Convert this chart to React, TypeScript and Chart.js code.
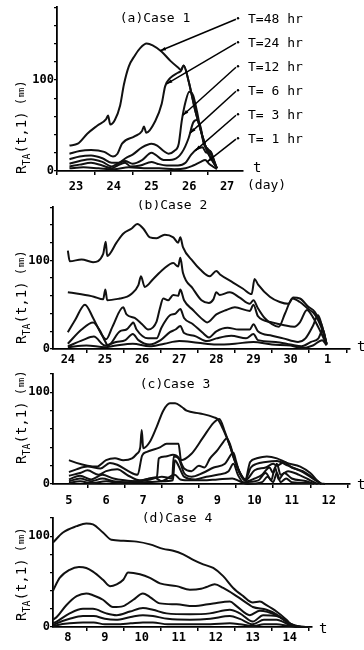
import React, { useEffect, useRef } from "react";
import { Chart, registerables } from "chart.js";
Chart.register(...registerables);

type Pt = [number, number];

const seriesNames = ["T=48 hr", "T=24 hr", "T=12 hr", "T= 6 hr", "T= 3 hr", "T= 1 hr"];
const yLabelValues = [0, 100];

// ---------- (a) Case 1 ----------
const aTickDays = [23, 24, 25, 26, 27];
const aTickLabels = ["23", "24", "25", "26", "27"];
const aT48: Pt[] = [[22.83,28],[23.05,30],[23.3,41],[23.57,50],[23.8,57],[23.85,61],[23.91,51],[24.03,56],[24.17,72],[24.27,95],[24.4,115],[24.56,127],[24.7,135],[24.87,140],[25.03,138],[25.27,131],[25.5,121],[25.72,113],[25.78,111],[25.85,116],[25.98,99],[26.16,66],[26.33,41],[26.47,22],[26.6,12],[26.73,3]];
const aT24: Pt[] = [[22.83,19],[23.1,22],[23.4,23],[23.75,21],[23.98,16],[24.1,19],[24.22,30],[24.55,38],[24.75,44],[24.8,49],[24.86,42],[25.1,55],[25.27,74],[25.36,93],[25.49,102],[25.7,108],[25.78,110],[25.85,116],[25.98,99],[26.16,66],[26.33,41],[26.47,22],[26.6,12],[26.73,3]];
const aT12: Pt[] = [[22.83,13],[23.1,16],[23.4,17],[23.7,14],[23.95,9],[24.1,9],[24.35,15],[24.5,18],[24.75,26],[25.0,30],[25.15,28],[25.32,22],[25.45,19],[25.6,22],[25.72,30],[25.8,55],[25.9,76],[26.0,87],[26.1,83],[26.2,66],[26.3,45],[26.4,30],[26.5,22],[26.6,16],[26.7,5]];
const aT6: Pt[] = [[22.83,8],[23.1,11],[23.4,13],[23.7,10],[23.95,5],[24.1,8],[24.3,11],[24.5,8],[24.75,12],[25.0,20],[25.1,18],[25.32,12],[25.6,13],[25.8,20],[25.98,36],[26.1,53],[26.2,56],[26.3,48],[26.38,30],[26.47,25],[26.58,20],[26.68,8],[26.73,3]];
const aT3: Pt[] = [[22.83,5],[23.1,7],[23.4,9],[23.7,6],[23.95,3],[24.1,6],[24.3,9],[24.45,5],[24.7,6],[25.0,10],[25.15,8],[25.4,6],[25.7,6],[25.9,9],[26.05,18],[26.2,24],[26.35,26],[26.45,20],[26.55,22],[26.65,12],[26.73,3]];
const aT1: Pt[] = [[22.83,3],[23.2,4],[23.6,3],[24.0,2],[24.4,4],[24.8,3],[25.2,3],[25.6,2],[25.9,3],[26.1,6],[26.3,10],[26.42,12],[26.52,8],[26.62,5],[26.73,2]];
const aLeaderDays = [25.23, 25.4, 25.83, 26.02, 26.16, 26.47];

// ---------- (b) Case 2 ----------
const bTickDays = [24, 25, 26, 27, 28, 29, 30, 31];
const bTickLabels = ["24", "25", "26", "27", "28", "29", "30", "1"];
const bT48: Pt[] = [[24.0,111],[24.05,99],[24.37,101],[24.68,98],[24.95,107],[25.02,121],[25.06,105],[25.31,120],[25.49,130],[25.72,136],[25.87,141],[26.03,136],[26.21,126],[26.39,125],[26.61,129],[26.84,126],[26.97,120],[27.03,126],[27.1,115],[27.37,99],[27.56,90],[27.82,82],[28.0,88],[28.1,84],[28.45,75],[28.72,68],[28.95,62],[29.03,79],[29.12,73],[29.44,59],[29.71,53],[29.94,51],[30.07,58],[30.25,57],[30.47,48],[30.65,42],[30.83,28],[30.97,6]];
const bT24: Pt[] = [[24.0,64],[24.32,62],[24.7,59],[24.95,56],[25.01,67],[25.06,55],[25.4,57],[25.6,59],[25.71,62],[25.9,72],[25.97,82],[26.07,70],[26.3,79],[26.57,90],[26.84,97],[26.97,93],[27.03,103],[27.1,86],[27.37,68],[27.6,55],[27.8,52],[27.92,56],[28.0,64],[28.09,61],[28.36,64],[28.63,58],[28.9,51],[29.0,55],[29.12,46],[29.3,35],[29.5,28],[29.68,25],[29.85,40],[30.05,57],[30.25,53],[30.45,46],[30.65,39],[30.83,24],[30.97,6]];
const bT12: Pt[] = [[24.0,19],[24.2,33],[24.46,50],[24.68,35],[24.9,17],[25.03,11],[25.2,25],[25.49,47],[25.58,39],[25.8,35],[26.0,28],[26.16,22],[26.39,31],[26.48,46],[26.57,57],[26.7,55],[26.84,61],[26.97,60],[27.03,67],[27.13,55],[27.37,44],[27.64,33],[27.75,30],[28.0,39],[28.27,44],[28.5,47],[28.9,43],[29.0,50],[29.12,37],[29.5,30],[29.8,27],[30.1,25],[30.25,30],[30.44,44],[30.6,36],[30.8,20],[30.97,5]];
const bT6: Pt[] = [[24.0,6],[24.37,22],[24.68,30],[24.86,21],[25.0,9],[25.08,4],[25.4,20],[25.58,22],[25.71,28],[25.76,30],[25.85,22],[26.16,12],[26.39,12],[26.52,24],[26.75,38],[26.9,40],[27.03,45],[27.13,35],[27.37,28],[27.64,18],[27.8,13],[28.0,20],[28.3,24],[28.6,22],[28.9,22],[29.0,28],[29.12,20],[29.5,15],[29.8,12],[30.2,8],[30.4,12],[30.6,26],[30.74,38],[30.85,25],[30.97,5]];
const bT3: Pt[] = [[24.0,3],[24.4,10],[24.7,14],[25.0,4],[25.3,8],[25.55,10],[25.75,17],[25.9,10],[26.2,5],[26.5,10],[26.75,19],[26.9,22],[27.03,26],[27.13,18],[27.4,15],[27.75,9],[28.0,12],[28.4,15],[28.8,12],[29.0,17],[29.12,10],[29.6,8],[30.0,5],[30.3,3],[30.55,8],[30.75,12],[30.87,22],[30.97,5]];
const bT1: Pt[] = [[24.0,2],[24.5,4],[25.0,2],[25.3,4],[25.75,6],[26.2,3],[26.6,6],[27.0,9],[27.5,7],[28.0,5],[28.5,6],[29.0,8],[29.5,5],[30.0,4],[30.3,1],[30.6,4],[30.85,10],[30.97,4]];

// ---------- (c) Case 3 ----------
const cTickDays = [5, 6, 7, 8, 9, 10, 11, 12];
const cTickLabels = ["5", "6", "7", "8", "9", "10", "11", "12"];
const cT48: Pt[] = [[5.0,26],[5.2,23],[5.5,20],[5.75,19],[6.0,26],[6.24,28],[6.46,26],[6.7,28],[6.83,33],[6.92,40],[6.96,59],[7.0,39],[7.18,46],[7.36,62],[7.54,80],[7.72,88],[7.86,88],[8.04,84],[8.17,80],[8.53,77],[8.89,73],[9.02,70],[9.16,59],[9.34,41],[9.43,29],[9.61,12],[9.75,5],[9.88,24],[10.06,28],[10.33,30],[10.6,28],[10.87,23],[11.23,19],[11.5,12],[11.77,1],[11.9,0]];
const cT24: Pt[] = [[5.0,13],[5.2,16],[5.5,19],[5.85,17],[6.1,23],[6.3,21],[6.6,14],[6.85,10],[6.97,31],[7.1,35],[7.45,40],[7.63,44],[7.95,44],[8.02,26],[8.3,33],[8.6,50],[8.9,67],[9.05,71],[9.2,57],[9.35,40],[9.45,28],[9.61,12],[9.75,5],[9.9,18],[10.05,22],[10.3,24],[10.6,25],[10.9,20],[11.3,13],[11.6,5],[11.8,0]];
const cT12: Pt[] = [[5.0,9],[5.3,12],[5.5,15],[5.8,10],[6.0,14],[6.3,16],[6.6,9],[6.9,4],[7.2,6],[7.37,8],[7.42,28],[7.6,30],[7.8,32],[7.95,29],[8.1,17],[8.3,14],[8.5,20],[8.65,18],[8.8,28],[9.0,37],[9.16,46],[9.25,50],[9.35,42],[9.45,28],[9.61,11],[9.75,4],[10.0,15],[10.3,18],[10.5,22],[10.6,20],[10.8,24],[11.0,18],[11.3,14],[11.6,6],[11.8,0]];
const cT6: Pt[] = [[5.0,5],[5.3,9],[5.6,5],[5.9,10],[6.2,6],[6.5,4],[6.8,3],[7.2,5],[7.5,8],[7.78,6],[7.82,30],[7.95,28],[8.1,12],[8.3,8],[8.6,12],[8.9,18],[9.2,22],[9.43,34],[9.5,25],[9.6,12],[9.8,3],[10.0,6],[10.2,10],[10.4,18],[10.5,12],[10.6,22],[10.7,10],[10.9,14],[11.2,10],[11.5,4],[11.7,0]];
const cT3: Pt[] = [[5.0,3],[5.3,6],[5.6,3],[5.9,6],[6.2,3],[6.6,2],[7.0,4],[7.3,7],[7.5,3],[7.8,4],[7.85,26],[7.95,20],[8.1,8],[8.4,5],[8.7,8],[9.0,10],[9.3,14],[9.43,22],[9.55,10],[9.7,2],[10.1,4],[10.3,12],[10.45,4],[10.55,18],[10.65,5],[10.8,12],[11.0,6],[11.4,3],[11.6,0]];
const cT1: Pt[] = [[5.0,1],[5.3,3],[5.6,1],[6.0,3],[6.4,1],[7.0,2],[7.5,3],[7.85,10],[8.0,5],[8.3,4],[8.6,4],[9.0,5],[9.4,6],[9.6,3],[9.8,0],[10.2,2],[10.35,8],[10.5,2],[10.6,12],[10.7,2],[10.85,6],[11.0,2],[11.5,1]];

// ---------- (d) Case 4 ----------
const dTickDays = [8, 9, 10, 11, 12, 13, 14];
const dTickLabels = ["8", "9", "10", "11", "12", "13", "14"];
const dT48: Pt[] = [[7.6,93],[7.87,104],[8.24,111],[8.5,114],[8.68,113],[8.95,104],[9.18,96],[9.5,95],[9.86,94],[10.22,91],[10.58,86],[10.85,84],[11.12,80],[11.39,74],[11.66,69],[11.93,65],[12.2,56],[12.47,43],[12.74,34],[13.0,27],[13.19,28],[13.37,24],[13.64,17],[13.91,8],[14.09,1],[14.5,0]];
const dT24: Pt[] = [[7.6,40],[7.78,54],[8.05,63],[8.3,66],[8.5,65],[8.68,61],[8.95,52],[9.14,45],[9.32,47],[9.5,52],[9.63,60],[9.95,58],[10.22,54],[10.49,48],[10.94,45],[11.3,41],[11.6,42],[11.75,44],[11.97,47],[12.2,43],[12.56,34],[12.92,24],[13.0,22],[13.37,19],[13.64,14],[13.9,6],[14.05,1],[14.4,0]];
const dT12: Pt[] = [[7.6,8],[7.7,11],[7.96,24],[8.24,34],[8.5,37],[8.68,35],[8.95,30],[9.22,22],[9.5,23],[9.77,30],[10.03,37],[10.22,33],[10.49,26],[10.94,25],[11.39,23],[11.93,26],[12.38,28],[12.56,23],[12.92,13],[13.19,18],[13.64,13],[14.0,4],[14.3,0]];
const dT6: Pt[] = [[7.6,4],[7.7,6],[8.05,15],[8.41,20],[8.68,20],[9.04,15],[9.32,13],[9.68,17],[10.03,21],[10.3,19],[10.67,15],[11.3,14],[11.84,15],[12.38,19],[12.65,15],[13.0,6],[13.28,13],[13.64,12],[14.0,4],[14.2,0]];
const dT3: Pt[] = [[7.6,2],[7.7,4],[8.05,9],[8.41,12],[8.7,12],[9.0,9],[9.3,8],[9.7,11],[10.03,13],[10.3,12],[10.7,9],[11.3,8],[11.85,9],[12.38,12],[12.65,9],[13.0,3],[13.3,8],[13.64,8],[14.0,2],[14.2,0]];
const dT1: Pt[] = [[7.6,1],[7.7,2],[8.05,4],[8.41,5],[8.7,5],[9.0,3],[9.3,3],[9.7,4],[10.03,5],[10.3,5],[10.7,3],[11.3,3],[11.85,3],[12.38,4],[12.65,3],[13.0,1],[13.3,3],[13.64,3],[14.0,1],[14.5,0]];

// ---------- layout (positions, not data) ----------
type Panel = {
  title: string;
  top: number; h: number;
  left: number; right: number; areaTop: number; areaBottom: number;
  xMin: number; xMax: number; yMax: number;
  ticks: number[]; labels: string[];
  series: Pt[][];
  tickPad: number;
  titleX: number; titleY: number;
  yTitleX: number; yTitleBottom: number;
  tX: number; tY: number;
  day?: boolean;
  leaders?: number[];
};

const FONT = "'DejaVu Sans Mono', monospace";

const panels: Panel[] = [
  { title: "(a)Case 1", top: 0, h: 200, left: 57, right: 243, areaTop: 5, areaBottom: 171,
    xMin: 22.5, xMax: 27.42, yMax: 180, ticks: aTickDays, labels: aTickLabels,
    series: [aT48, aT24, aT12, aT6, aT3, aT1], tickPad: 5, titleX: 155, titleY: 19,
    yTitleX: 22, yTitleBottom: 174, tX: 257, tY: 170, day: true, leaders: aLeaderDays },
  { title: "(b)Case 2", top: 200, h: 165, left: 53, right: 350, areaTop: 2, areaBottom: 149,
    xMin: 23.6, xMax: 31.6, yMax: 160, ticks: bTickDays, labels: bTickLabels,
    series: [bT48, bT24, bT12, bT6, bT3, bT1], tickPad: 0, titleX: 172, titleY: 6,
    yTitleX: 22, yTitleBottom: 144, tX: 361, tY: 149 },
  { title: "(c)Case 3", top: 365, h: 140, left: 53, right: 350, areaTop: 9, areaBottom: 119,
    xMin: 4.57, xMax: 12.57, yMax: 120, ticks: cTickDays, labels: cTickLabels,
    series: [cT48, cT24, cT12, cT6, cT3, cT1], tickPad: 6, titleX: 175, titleY: 20,
    yTitleX: 22, yTitleBottom: 99, tX: 361, tY: 122 },
  { title: "(d)Case 4", top: 505, h: 145, left: 53, right: 312, areaTop: 13, areaBottom: 122,
    xMin: 7.6, xMax: 14.6, yMax: 120, ticks: dTickDays, labels: dTickLabels,
    series: [dT48, dT24, dT12, dT6, dT3, dT1], tickPad: 0, titleX: 177, titleY: 14,
    yTitleX: 22, yTitleBottom: 116, tX: 323, tY: 126 },
];

function interp(s: Pt[], x: number): number {
  for (let i = 1; i < s.length; i++) {
    if (x <= s[i][0]) {
      const [x0, y0] = s[i - 1];
      const [x1, y1] = s[i];
      return y0 + ((y1 - y0) * (x - x0)) / (x1 - x0);
    }
  }
  return s[s.length - 1][1];
}

function decorPlugin(p: Panel) {
  return {
    id: "decor",
    afterDraw(chart: any) {
      const ctx: CanvasRenderingContext2D = chart.ctx;
      const area = chart.chartArea;
      ctx.save();
      ctx.fillStyle = "#000";
      ctx.strokeStyle = "#000";
      // panel title
      ctx.font = `13px ${FONT}`;
      ctx.textAlign = "center";
      ctx.textBaseline = "middle";
      ctx.fillText(p.title, p.titleX, p.titleY);
      // axis end "t"
      ctx.font = `14px ${FONT}`;
      ctx.textAlign = "left";
      ctx.fillText("t", p.tX - 4, p.tY - 2);
      if (p.day) {
        ctx.font = `13px ${FONT}`;
        ctx.fillText("(day)", p.tX - 10, p.tY + 16);
      }
      // y title (rotated)
      ctx.save();
      ctx.translate(p.yTitleX, p.yTitleBottom);
      ctx.rotate(-Math.PI / 2);
      ctx.textAlign = "left";
      ctx.textBaseline = "middle";
      let cx = 0;
      const put = (s: string, size: number, dy: number) => {
        ctx.font = `${size}px ${FONT}`;
        ctx.fillText(s, cx, dy);
        cx += ctx.measureText(s).width;
      };
      put("R", 14, 0);
      put("TA", 10, 5);
      put("(t,1)", 14, 0);
      cx += 6;
      put("(", 13, 0);
      put("mm", 8, 0);
      put(")", 13, 0);
      ctx.restore();
      // legend labels with leader lines
      if (p.leaders) {
        const xs = chart.scales.x;
        const ys = chart.scales.y;
        ctx.font = `13px ${FONT}`;
        ctx.textAlign = "left";
        ctx.textBaseline = "middle";
        ctx.lineWidth = 1.5;
        seriesNames.forEach((name, i) => {
          const ly = area.top + 12 + i * 24;
          const sx = area.right - 7;
          ctx.fillText(name, area.right + 5, ly);
          const d = p.leaders![i];
          const ex = xs.getPixelForValue(d);
          const ey = ys.getPixelForValue(interp(p.series[i], d));
          ctx.beginPath();
          ctx.moveTo(sx, ly);
          ctx.lineTo(ex, ey);
          ctx.stroke();
          ctx.beginPath();
          ctx.arc(sx + 2, ly - 1, 1.2, 0, Math.PI * 2);
          ctx.fill();
          const ang = Math.atan2(ey - ly, ex - sx);
          ctx.beginPath();
          ctx.moveTo(ex, ey);
          ctx.lineTo(ex - 6 * Math.cos(ang - 0.3), ey - 6 * Math.sin(ang - 0.3));
          ctx.lineTo(ex - 6 * Math.cos(ang + 0.3), ey - 6 * Math.sin(ang + 0.3));
          ctx.closePath();
          ctx.fill();
        });
      }
      ctx.restore();
    },
  };
}

function buildConfig(p: Panel): any {
  const labelMap = new Map<number, string>(p.ticks.map((v, i) => [v, p.labels[i]] as [number, string]));
  const tickVals: number[] = [...p.ticks];
  for (let v = Math.floor(p.xMin) + 0.5; v <= p.xMax; v += 1) if (v >= p.xMin) tickVals.push(v);
  tickVals.sort((a, b) => a - b);
  return {
    type: "line",
    data: {
      datasets: p.series.map((s, i) => ({
        label: seriesNames[i],
        data: s.map(([x, y]) => ({ x, y })),
        borderColor: "#111",
        borderWidth: 2,
        pointRadius: 0,
        fill: false,
        cubicInterpolationMode: "monotone",
        clip: false,
      })),
    },
    options: {
      animation: false,
      responsive: false,
      devicePixelRatio: 1,
      events: [],
      layout: { autoPadding: false, padding: { left: 0, right: 364 - p.right, top: p.areaTop, bottom: 0 } },
      plugins: { legend: { display: false }, tooltip: { enabled: false }, title: { display: false } },
      scales: {
        x: {
          type: "linear",
          min: p.xMin,
          max: p.xMax,
          afterFit: (s: any) => { s.height = p.h - p.areaBottom; },
          afterBuildTicks: (s: any) => { s.ticks = tickVals.map((v) => ({ value: v })); },
          ticks: {
            autoSkip: false, maxRotation: 0, minRotation: 0, padding: p.tickPad, color: "#000",
            font: { family: FONT, weight: "bold", size: 12 },
            callback: (v: number) => labelMap.get(v) ?? "",
          },
          grid: {
            drawOnChartArea: false, drawTicks: true, tickLength: 4, lineWidth: 1.5,
            color: (c: any) => (c.tick && Number.isInteger(c.tick.value) ? "rgba(0,0,0,0)" : "#000"),
          },
          border: { display: true, color: "#000", width: 1.8 },
        },
        y: {
          type: "linear",
          min: 0,
          max: p.yMax,
          afterFit: (s: any) => { s.width = p.left; },
          ticks: {
            stepSize: 20, padding: 0, color: "#000",
            font: { family: FONT, weight: "bold", size: 12 },
            callback: (v: number) => (yLabelValues.includes(v) ? String(v) : ""),
          },
          grid: { drawOnChartArea: false, drawTicks: true, tickLength: 3, lineWidth: 1.3, color: "#000" },
          border: { display: true, color: "#000", width: 1.8 },
        },
      },
    },
    plugins: [decorPlugin(p)],
  };
}

function PanelChart({ p }: { p: Panel }) {
  const ref = useRef<HTMLCanvasElement | null>(null);
  useEffect(() => {
    if (!ref.current) return;
    const chart = new Chart(ref.current, buildConfig(p));
    return () => chart.destroy();
  }, [p]);
  return (
    <canvas
      ref={ref}
      width={364}
      height={p.h}
      style={{ position: "absolute", left: 0, top: p.top, width: 364, height: p.h }}
    />
  );
}

export default function App() {
  return (
    <div style={{ position: "fixed", left: 0, top: 0, width: 364, height: 650, background: "#fff", overflow: "hidden" }}>
      {panels.map((p) => (
        <PanelChart key={p.title} p={p} />
      ))}
    </div>
  );
}
